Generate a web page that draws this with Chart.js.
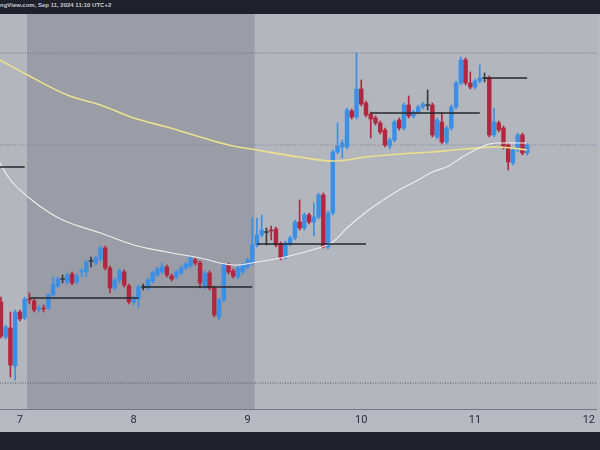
<!DOCTYPE html>
<html>
<head>
<meta charset="utf-8">
<script src="https://cdn.jsdelivr.net/npm/chart.js@4.4.1/dist/chart.umd.min.js"></script>
<style>
    body { margin: 0; width: 600px; height: 450px; overflow: hidden; background: #1e212b; }
    #top { height: 14px; background: #1e212b; color: #c9cbd1; font: bold 6px "Liberation Sans", sans-serif; line-height: 11px; white-space: nowrap; overflow: hidden; }
    #wrap { position: relative; width: 600px; height: 418px; background: #b7b9c0; }
    #bottom { height: 18px; background: #1e212b; }
</style>
</head>
<body>
<div id="top">ngView.com, Sep 11, 2024 11:10 UTC+2</div>
<div id="wrap"><canvas id="chart"></canvas></div>
<div id="bottom"></div>
<script>
// hourly candles, first one is 4h before Sep 7 00:00 (UTC+2)
let startHour = -4;
let opens = [108, 73, 82, 44, 98, 92, 111, 109, 101, 102, 102, 115, 124, 131, 128, 136, 128, 138, 138, 149,
    147, 151, 162, 142, 122, 130, 138, 124, 108, 111, 123, 122, 129, 135, 138, 143, 134, 133, 137, 142,
    144, 150, 147, 123, 137, 122, 93, 110, 145, 139, 133, 138, 143, 147, 165, 175, 178, 180, 181, 166,
    153, 166, 172, 188, 182, 195, 188, 193, 215, 163, 197, 258, 263, 263, 299, 293, 321, 307, 296, 292,
    287, 280, 264, 270, 290, 282, 305, 294, 298, 303, 305, 305, 273, 288, 268, 282, 303, 327, 350, 327,
    323, 329, 332, 332, 275, 287, 282, 265, 247, 260, 275, 257];
let highs = [113, 85, 98, 100, 100, 113, 117, 111, 105, 105, 116, 133, 133, 135, 137, 138, 136, 142, 150, 153,
    154, 164, 164, 144, 132, 141, 140, 126, 114, 125, 126, 132, 139, 143, 147, 145, 136, 140, 144, 148,
    154, 152, 149, 139, 139, 124, 112, 147, 147, 141, 144, 147, 152, 192, 192, 195, 182, 184, 183, 168,
    169, 174, 190, 210, 197, 197, 207, 217, 217, 199, 260, 287, 270, 302, 301, 357, 330, 309, 298, 294,
    289, 282, 272, 290, 292, 307, 314, 300, 305, 308, 320, 307, 292, 298, 284, 305, 329, 353, 352, 338,
    331, 345, 337, 334, 302, 289, 284, 267, 262, 277, 277, 267];
let lows = [72, 71, 33, 30, 89, 90, 106, 98, 98, 98, 100, 114, 122, 127, 126, 125, 126, 133, 133, 143,
    145, 149, 140, 117, 120, 127, 123, 106, 105, 102, 120, 120, 127, 133, 136, 133, 129, 131, 135, 140,
    142, 145, 122, 121, 120, 93, 90, 108, 136, 132, 131, 136, 141, 145, 163, 173, 165, 170, 163, 150,
    151, 164, 170, 180, 180, 186, 174, 191, 162, 161, 195, 256, 252, 261, 291, 291, 304, 293, 272, 285,
    276, 263, 261, 268, 280, 280, 292, 292, 296, 301, 300, 273, 271, 266, 266, 280, 301, 325, 325, 321,
    321, 327, 328, 273, 273, 278, 261, 240, 245, 258, 255, 255];
let closes = [74, 83, 45, 98, 91, 111, 110, 100, 102, 101, 115, 125, 131, 130.5, 135, 127, 134, 139, 148, 148.5,
    152, 162, 142, 122, 130, 139, 125, 108, 111, 123, 122.5, 130, 137, 141, 143, 135, 131, 138, 142, 146,
    152, 147, 127, 137, 122, 95, 110, 145, 138, 134, 142, 145, 150, 165, 175, 180, 177.5, 179, 165, 152,
    167, 172, 188, 182, 195, 188, 193, 215, 163, 197, 258, 264, 267, 300, 293, 321, 306, 295, 291, 287,
    278, 265, 270, 288, 282, 305, 294, 298, 303, 306, 304.5, 275, 290, 268, 282, 303, 327, 350, 327, 323,
    329, 332, 331.5, 275, 288, 280, 263, 248, 260, 275, 257, 265];

// moving averages
let slowHours = [-5, 2, 10, 17, 24, 31, 38, 44, 50, 59, 66, 73, 80, 87, 94, 101, 107];
let slowValues = [352, 334, 315, 305, 292, 283, 273, 265, 260, 253, 249, 253, 256, 258, 261, 263, 260];
let fastHours = [-5, -2, 2, 6, 10, 17, 24, 31, 38, 45, 50, 56, 63, 66, 69, 73, 76, 80, 84, 87, 90, 93, 96, 99, 102, 107];
let fastValues = [254, 230, 212, 198, 188, 177, 165, 158, 152, 145, 148, 153, 162, 168, 182, 198, 208, 220, 230, 238, 243, 252, 260, 266, 267, 267];

// daily open levels
let levelStarts = [-22, 2, 26, 50, 74, 98];
let levelEnds = [1, 25, 49, 73, 97, 107];
let levelValues = [243, 112, 123, 166, 297, 332];

// dotted lines: high, last price, low
let dottedValues = [357, 265, 27];
let dottedColors = ['#70737e', '#7a84a6', '#555861'];

let dayTickHours = [0, 24, 48, 72, 96, 120];
let dayLabels = ['7', '8', '9', '10', '11', '12'];
let weekendStart = 1.5;
let weekendEnd = 49.5;

let xMin = -4.2;
let xMax = 121.7;

let upColor = '#3a8fe6';
let downColor = '#b3263f';
let dojiColor = '#3a3c44';

let hours = opens.map(function (o, i) { return startHour + i; });
let colors = opens.map(function (o, i) {
    if (Math.abs(closes[i] - o) < 1) return dojiColor;
    return closes[i] > o ? upColor : downColor;
});

let datasets = [];

dottedValues.forEach(function (v, i) {
    datasets.push({
        type: 'line',
        data: [{ x: xMin, y: v }, { x: xMax, y: v }],
        borderColor: dottedColors[i],
        borderWidth: 1,
        borderDash: [1, 1.5],
        pointRadius: 0,
        order: 20
    });
});

datasets.push({
    type: 'bar',
    data: hours.map(function (h, i) { return { x: h, y: [lows[i], highs[i]] }; }),
    backgroundColor: colors,
    barThickness: 1,
    grouped: false,
    borderWidth: 0,
    order: 11
});
datasets.push({
    type: 'bar',
    data: hours.map(function (h, i) { return { x: h, y: [opens[i], closes[i]] }; }),
    backgroundColor: colors,
    barThickness: 3.8,
    minBarLength: 1,
    grouped: false,
    borderWidth: 0,
    order: 10
});

datasets.push({
    type: 'line',
    data: slowHours.map(function (h, i) { return { x: h, y: slowValues[i] }; }),
    borderColor: '#ece08e',
    borderWidth: 1.6,
    pointRadius: 0,
    tension: 0.4,
    order: 3
});
datasets.push({
    type: 'line',
    data: fastHours.map(function (h, i) { return { x: h, y: fastValues[i] }; }),
    borderColor: '#eeeef0',
    borderWidth: 1.1,
    pointRadius: 0,
    tension: 0.4,
    order: 2
});

levelValues.forEach(function (v, i) {
    datasets.push({
        type: 'line',
        data: [{ x: levelStarts[i], y: v }, { x: levelEnds[i], y: v }],
        borderColor: '#26272c',
        borderWidth: 1.6,
        pointRadius: 0,
        order: 1
    });
});

let shade = {
    id: 'shade',
    beforeDraw: function (chart) {
        let ctx = chart.ctx;
        let a = chart.chartArea;
        let x = chart.scales.x;
        ctx.save();
        ctx.fillStyle = '#b4b6bd';
        ctx.fillRect(a.left, a.top, a.right - a.left, a.bottom - a.top);
        let x0 = x.getPixelForValue(weekendStart);
        let x1 = x.getPixelForValue(weekendEnd);
        ctx.fillStyle = '#9a9da6';
        ctx.fillRect(x0, a.top, x1 - x0, a.bottom - a.top);
        ctx.restore();
    }
};

new Chart(document.getElementById('chart'), {
    type: 'bar',
    data: { datasets: datasets },
    plugins: [shade],
    options: {
        responsive: true,
        maintainAspectRatio: false,
        animation: false,
        events: [],
        layout: { padding: 0 },
        plugins: { legend: { display: false }, tooltip: { enabled: false } },
        scales: {
            x: {
                type: 'linear',
                min: xMin,
                max: xMax,
                offset: false,
                grid: { display: false, drawTicks: false },
                border: { display: true, color: '#747780', width: 1 },
                afterBuildTicks: function (scale) {
                    scale.ticks = dayTickHours.map(function (h) { return { value: h }; });
                },
                afterFit: function (scale) { scale.height = 23; },
                ticks: {
                    padding: 5,
                    maxRotation: 0,
                    autoSkip: false,
                    color: '#2b2e37',
                    font: { family: 'Roboto', size: 11 },
                    callback: function (value) { return dayLabels[dayTickHours.indexOf(value)]; }
                }
            },
            y: {
                display: false,
                min: 1,
                max: 396
            }
        }
    }
});
</script>
</body>
</html>
